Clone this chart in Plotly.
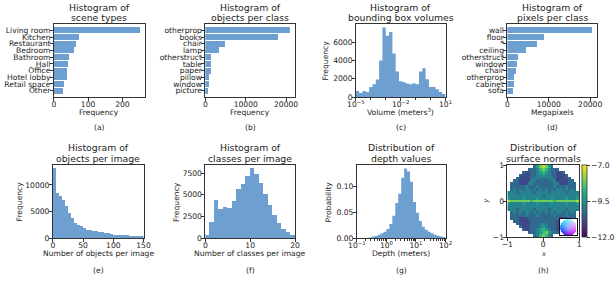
import numpy as np
import plotly.graph_objects as go

# ---------------- data ----------------
scene_types = ["Living room", "Kitchen", "Restaurant", "Bedroom", "Bathroom", "Hall",
               "Office", "Hotel lobby", "Retail space", "Other"]
scene_counts = [252, 72, 64, 58, 43, 40, 37, 37, 28, 25]

object_classes = ["otherprop", "books", "chair", "lamp", "otherstruct", "table",
                  "paper", "pillow", "window", "picture"]
object_counts = [21150, 17960, 4980, 3510, 1550, 1550, 1500, 1060, 1000, 800]

pixel_classes = ["wall", "floor", "*", "ceiling", "otherstruct", "window", "chair",
                 "otherprop", "cabinet", "sofa"]
pixel_mpix = [20640, 8840, 7150, 4500, 2570, 2330, 2090, 1600, 1600, 1370]

volume_bin_edges = np.logspace(-5, 1, 28)
volume_counts = [650, 430, 650, 540, 1080, 1400, 1900, 4000, 7600, 6700, 7100, 4750, 2800,
                 1730, 1620, 1470, 1400, 1510, 1400, 2800, 3130, 1940, 1080, 1080, 860, 540, 320]
volume_ticks = [1e-5, 1e-2, 1e1]
volume_ticktext = ["10<sup>−5</sup>", "10<sup>−2</sup>", "10<sup>1</sup>"]

objects_bin_edges = list(range(0, 155, 5))
objects_counts = [13080, 8490, 7990, 7170, 5970, 4780, 3840, 2830, 2520, 2260, 1890, 1510,
                  1510, 1320, 1260, 1130, 1070, 940, 880, 820, 640, 620, 600, 580, 560, 450,
                  440, 430, 420, 410]

classes_bin_edges = list(range(0, 21))
classes_counts = [390, 1850, 4400, 3360, 3590, 3470, 4290, 5680, 6260, 7180, 8030, 7410,
                  6370, 5090, 3780, 2630, 1740, 1040, 730, 390]

depth_bin_edges = np.logspace(-1, 2, 31)
depth_prob = [0, 0, 0, 0, 0.001, 0.003, 0.004, 0.0065, 0.009, 0.012,
              0.0175, 0.027, 0.043, 0.068, 0.086, 0.117, 0.135, 0.129, 0.109, 0.070,
              0.049, 0.033, 0.022, 0.016, 0.012, 0.009, 0.0065, 0.0045, 0.003, 0.002]
depth_ticks = [1e-1, 1e0, 1e1, 1e2]
depth_ticktext = ["10<sup>−1</sup>", "10<sup>0</sup>", "10<sup>1</sup>", "10<sup>2</sup>"]

# surface-normal log density, read as levels 0..9 (-12 .. -7), top row first
normal_rows = [
    "3578753",
    "33346764333",
    "322334565433223",
    "32223344544332223",
    "3222234443444322223",
    "332222443333344222233",
    "33322244333333344222333",
    "33333433343333343334333",
    "34343443434343434434343",
    "4443444443444434444434444",
    "4444444444443444444444444",
    "5444454444544445444454445",
    "8777777767777777677777778",
    "5444454444544445444454445",
    "4444444444444444444444444",
    "4443444443444434444434444",
    "34343443434343434434343",
    "33333433343333343334333",
    "33322233333333333222333",
    "332222333333333222233",
    "3222233344433322223",
    "32223334543332223",
    "322334565433223",
    "33345675433",
    "3467643",
]
normal_min, normal_max = -12.0, -7.0
normal_ticks = [-7.0, -9.5, -12.0]
normal_ticktext = ["−7.0", "−9.5", "−12.0"]

# ---------------- style ----------------
W, H = 616, 281
BAR = "#6e9fd1"
INK = "#222222"
FONT = "DejaVu Sans"
TICK = 7.6
TITLE = 9.3


def px(x):
    return x / W


def py(y):
    return 1 - y / H


axis_style = dict(showline=True, mirror=True, linecolor="#333333", linewidth=1.3,
                  ticks="outside", ticklen=2.7, tickwidth=0.8, tickcolor="#333333",
                  showgrid=False, zeroline=False, automargin=False,
                  tickfont=dict(size=TICK, color=INK, family=FONT))

boxes = [(54, 145, 24, 97), (206, 296, 24, 97), (357, 447, 24, 97), (509, 599, 24, 97),
         (53, 144, 165, 238), (206, 296, 165, 238), (358, 447, 165, 238), (509, 581, 165, 237)]

layout = {}
for i, (x0, x1, y0, y1) in enumerate(boxes, start=1):
    s = "" if i == 1 else str(i)
    layout["xaxis" + s] = dict(domain=[px(x0), px(x1)], anchor="y" + s,
                               ticklabelstandoff=-3, **axis_style)
    layout["yaxis" + s] = dict(domain=[py(y1), py(y0)], anchor="x" + s,
                               ticklabelstandoff=-2, **axis_style)

fig = go.Figure()

# (a), (b), (d) horizontal bars
for s, cats, vals, dt in [("", scene_types, scene_counts, 100),
                          ("2", object_classes, object_counts, 10000),
                          ("4", pixel_classes, pixel_mpix, 10000)]:
    fig.add_trace(go.Bar(x=vals, y=cats, orientation="h", width=0.9,
                         marker=dict(color=BAR, line=dict(width=0)),
                         xaxis="x" + s, yaxis="y" + s))
    layout["xaxis" + s].update(range=[0, max(vals) * 1.05], dtick=dt, tickformat="d")
    layout["yaxis" + s].update(type="category", categoryorder="array", categoryarray=cats,
                               tickmode="array", tickvals=cats, ticktext=cats,
                               range=[len(cats) - 0.05, -0.95])


# (c), (g) log histograms as filled steps
def step(edges, vals, s):
    fig.add_trace(go.Scatter(x=list(edges), y=list(vals) + [vals[-1]], mode="lines",
                             line=dict(shape="hv", width=0, color=BAR),
                             fill="tozeroy", fillcolor=BAR, xaxis="x" + s, yaxis="y" + s))


step(volume_bin_edges, volume_counts, "3")
layout["xaxis3"].update(type="log", range=[-5, 1], tickmode="array", tickvals=volume_ticks,
                        ticktext=volume_ticktext,
                        minor=dict(ticks="outside", ticklen=1.6, tickcolor="#333333", dtick=1))
layout["yaxis3"].update(range=[0, max(volume_counts) * 1.05], dtick=2000, tickformat="d")

step(depth_bin_edges, depth_prob, "7")
layout["xaxis7"].update(type="log", range=[-1, 2], tickmode="array", tickvals=depth_ticks,
                        ticktext=depth_ticktext,
                        minor=dict(ticks="outside", ticklen=1.6, tickcolor="#333333", dtick="D1"))
layout["yaxis7"].update(range=[0, max(depth_prob) * 1.05], tickvals=[0, 0.05, 0.10],
                        tickformat=".2f")

# (e), (f) linear histograms
for s, edges, vals in [("5", objects_bin_edges, objects_counts),
                       ("6", classes_bin_edges, classes_counts)]:
    fig.add_trace(go.Bar(x=edges[:-1], y=vals, width=edges[1] - edges[0], offset=0,
                         marker=dict(color=BAR, line=dict(width=0)),
                         xaxis="x" + s, yaxis="y" + s))
layout["xaxis5"].update(range=[0, 150], dtick=50)
layout["yaxis5"].update(range=[0, max(objects_counts) * 1.05], dtick=5000, tickformat="d")
layout["xaxis6"].update(range=[0, 20], dtick=10)
layout["yaxis6"].update(range=[0, max(classes_counts) * 1.05], dtick=2500, tickformat="d")

# (h) surface normals heatmap
n = len(normal_rows)
z = []
for row in normal_rows[::-1]:
    pad = (n - len(row)) // 2
    vals = [None] * pad + [normal_min + int(c) * (normal_max - normal_min) / 9 for c in row]
    vals += [None] * (n - len(vals))
    z.append(vals)
fig.add_trace(go.Heatmap(z=z, x0=-1 + 1 / n, dx=2 / n, y0=-1 + 1 / n, dy=2 / n,
                         colorscale="Viridis", zmin=normal_min, zmax=normal_max,
                         xaxis="x8", yaxis="y8",
                         colorbar=dict(x=px(584), xanchor="left", xpad=0, ypad=0,
                                       thickness=4.5, lenmode="fraction",
                                       len=(237 - 165) / H, y=py(201), yanchor="middle",
                                       tickmode="array", tickvals=normal_ticks,
                                       ticktext=normal_ticktext, ticks="outside", ticklen=2.7,
                                       tickwidth=0.8, tickcolor="#333333",
                                       outlinewidth=0.8, outlinecolor="#333333",
                                       tickfont=dict(size=TICK, color=INK, family=FONT))))
layout["xaxis8"].update(range=[-1, 1], tickvals=[-1, 0, 1], ticktext=["−1", "0", "1"])
layout["yaxis8"].update(range=[-1, 1], tickvals=[-1, 0, 1], ticktext=["−1", "0", "1"])

# inset colour key for normals
m = 36
gy, gx = np.mgrid[1:-1:m * 1j, -1:1:m * 1j]
rr = np.sqrt(gx ** 2 + gy ** 2)
img = np.full((m, m, 3), 255.0)
inside = rr <= 1
light = np.clip(1 - rr, 0, 1) * 0.35
R = (0.5 + 0.5 * gx) * (1 - light) + light
G = (0.5 + 0.5 * gy) * (1 - light) + light
B = np.ones_like(gx)
img[inside, 0] = 255 * R[inside]
img[inside, 1] = 255 * G[inside]
img[inside, 2] = 255 * B[inside]
fig.add_trace(go.Image(z=img.astype(np.uint8), xaxis="x9", yaxis="y9", hoverinfo="skip"))
layout["xaxis9"] = dict(domain=[px(562), px(579)], anchor="y9", range=[-0.5, m - 0.5],
                        showline=True, mirror=True, linecolor="#111111", linewidth=1,
                        showticklabels=False, ticks="", showgrid=False, zeroline=False,
                        automargin=False)
layout["yaxis9"] = dict(domain=[py(236), py(218)], anchor="x9", range=[m - 0.5, -0.5],
                        showline=True, mirror=True, linecolor="#111111", linewidth=1,
                        showticklabels=False, ticks="", showgrid=False, zeroline=False,
                        automargin=False)

# ---------------- annotations ----------------
ann = []


def text(x, y, t, size=TICK, angle=0):
    ann.append(dict(x=px(x), y=py(y), xref="paper", yref="paper", text=t, showarrow=False,
                    xanchor="center", yanchor="middle", textangle=angle,
                    font=dict(size=size, color=INK, family=FONT)))


titles = [("Histogram of", "scene types"), ("Histogram of", "objects per class"),
          ("Histogram of", "bounding box volumes"), ("Histogram of", "pixels per class"),
          ("Histogram of", "objects per image"), ("Histogram of", "classes per image"),
          ("Distribution of", "depth values"), ("Distribution of", "surface normals")]
xlabels = ["Frequency", "Frequency", "Volume (meters<sup>3</sup>)", "Megapixels",
           "Number of objects per image", "Number of classes per image", "Depth (meters)",
           "<i>x</i>"]
letters = ["(a)", "(b)", "(c)", "(d)", "(e)", "(f)", "(g)", "(h)"]
for i, (x0, x1, y0, y1) in enumerate(boxes):
    cx = (x0 + x1) / 2
    top = i < 4
    text(cx, 7 if top else 147.5, titles[i][0], TITLE)
    text(cx, 17.5 if top else 158, titles[i][1], TITLE)
    text(cx, 112 if top else 253.5, xlabels[i], TICK if i < 7 else 6.5)
    text(cx, 127.5 if top else 270, letters[i])

text(327, 60.5, "Frequency", TICK, -90)
text(20, 201.5, "Frequency", TICK, -90)
text(177, 201.5, "Frequency", TICK, -90)
text(330, 201.5, "Probability", TICK, -90)
text(488, 201, "<i>y</i>", 6.5, -90)

fig.update_layout(template="none", width=W, height=H, margin=dict(l=0, r=0, t=0, b=0),
                  autosize=False, paper_bgcolor="white", plot_bgcolor="white",
                  showlegend=False, font=dict(family=FONT, size=TICK, color=INK),
                  annotations=ann, bargap=0, **layout)

fig.write_html("out.html", config={"displayModeBar": False},
               post_script="document.body.style.margin='0';document.body.style.padding='0';")
